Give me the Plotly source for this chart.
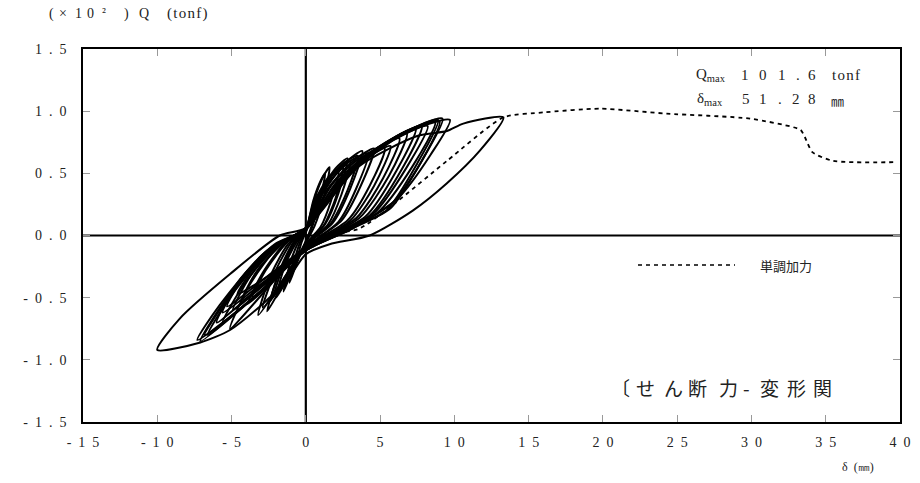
import plotly.graph_objects as go

# ---------------- data ----------------
# cyclic loading loops: displacement delta (mm), shear Q (x10^2 tonf)
c1_d = [0, 0.4, 0.8, 0.5, 0.1, -0.3, -0.6, -0.3, 0]
c1_q = [0.02, 0.2, 0.33, 0.12, -0.02, -0.12, -0.2, -0.06, 0.03]
c2_d = [0, 0.6, 1.2, 1.6, 1.2, 0.6, 0, -0.8, -1.5, -1.0, -0.4, 0]
c2_q = [0.03, 0.3, 0.48, 0.55, 0.3, 0.08, -0.06, -0.25, -0.45, -0.2, -0.03, 0.04]
c2b_d = [0, 0.5, 1.0, 1.3, 0.9, 0.4, 0, -0.6, -1.1, -0.7, -0.3, 0]
c2b_q = [0.03, 0.28, 0.44, 0.5, 0.26, 0.06, -0.05, -0.22, -0.38, -0.17, -0.03, 0.03]
c3_d = [0, 0.8, 1.8, 2.5, 2.0, 1.2, 0, -1.2, -2.6, -1.8, -0.8, 0]
c3_q = [0.04, 0.3, 0.5, 0.56, 0.3, 0.08, -0.08, -0.32, -0.61, -0.3, -0.06, 0.05]
c3b_d = [0, 0.7, 1.6, 2.2, 1.7, 1.0, 0, -1.0, -2.0, -1.4, -0.6, 0]
c3b_q = [0.04, 0.3, 0.48, 0.52, 0.28, 0.07, -0.07, -0.3, -0.5, -0.24, -0.05, 0.04]
c4_d = [0, 1.0, 2.2, 3.0, 2.4, 1.5, 0, -1.4, -2.4, -1.7, -0.8, 0]
c4_q = [0.04, 0.32, 0.52, 0.6, 0.33, 0.09, -0.08, -0.33, -0.53, -0.26, -0.05, 0.04]
c4b_d = [0, 0.9, 2.0, 2.8, 2.2, 1.3, 0, -1.2, -2.2, -1.5, -0.7, 0]
c4b_q = [0.04, 0.33, 0.54, 0.62, 0.34, 0.09, -0.08, -0.3, -0.5, -0.24, -0.05, 0.04]
c5_d = [0, 1.2, 2.6, 3.8, 3.0, 1.8, 0, -1.5, -3.2, -2.4, -1.2, 0]
c5_q = [0.05, 0.35, 0.58, 0.68, 0.38, 0.1, -0.08, -0.35, -0.64, -0.33, -0.07, 0.05]
c5b_d = [0, 1.1, 2.4, 3.5, 2.8, 1.7, 0, -1.4, -2.9, -2.1, -1.0, 0]
c5b_q = [0.05, 0.36, 0.57, 0.64, 0.36, 0.1, -0.08, -0.34, -0.58, -0.3, -0.06, 0.05]
c6_d = [0, 1.5, 3.2, 4.6, 3.7, 2.4, 0, -1.8, -3.6, -2.7, -1.3, 0]
c6_q = [0.05, 0.38, 0.6, 0.7, 0.4, 0.12, -0.09, -0.32, -0.5, -0.28, -0.06, 0.05]
c6b_d = [0, 1.4, 3.0, 4.2, 3.4, 2.2, 0, -1.9, -3.9, -2.9, -1.4, 0]
c6b_q = [0.05, 0.4, 0.6, 0.66, 0.38, 0.11, -0.09, -0.33, -0.55, -0.3, -0.06, 0.05]
c7_d = [0, 1.8, 3.8, 5.7, 4.6, 3.0, 0, -2.2, -4.6, -3.4, -1.6, 0]
c7_q = [0.05, 0.38, 0.6, 0.72, 0.4, 0.12, -0.1, -0.3, -0.47, -0.25, -0.06, 0.05]
c7b_d = [0, 1.7, 3.6, 5.3, 4.3, 2.8, 0, -2.0, -4.3, -3.2, -1.5, 0]
c7b_q = [0.05, 0.4, 0.62, 0.7, 0.4, 0.12, -0.09, -0.32, -0.52, -0.27, -0.06, 0.05]
c8_d = [0, 2.2, 4.5, 6.8, 5.6, 3.6, 0, -2.5, -5.3, -4.0, -1.8, 0]
c8_q = [0.05, 0.42, 0.68, 0.82, 0.48, 0.14, -0.1, -0.32, -0.57, -0.3, -0.06, 0.05]
c8b_d = [0, 2.0, 4.2, 6.3, 5.2, 3.4, 0, -2.3, -4.9, -3.7, -1.7, 0]
c8b_q = [0.05, 0.42, 0.66, 0.78, 0.46, 0.14, -0.1, -0.34, -0.6, -0.32, -0.06, 0.05]
c9_d = [0, 2.4, 5.0, 7.4, 6.1, 4.0, 0, -2.7, -5.6, -4.3, -2.0, 0]
c9_q = [0.05, 0.45, 0.72, 0.86, 0.52, 0.15, -0.1, -0.36, -0.62, -0.34, -0.07, 0.05]
c9b_d = [0, 2.5, 5.3, 7.8, 6.5, 4.3, 0, -2.8, -6.0, -4.6, -2.1, 0]
c9b_q = [0.05, 0.46, 0.74, 0.88, 0.54, 0.16, -0.1, -0.38, -0.7, -0.38, -0.07, 0.05]
c10_d = [0, 2.8, 5.8, 8.7, 7.2, 4.8, 0, -2.4, -5.1, -3.8, -1.8, 0]
c10_q = [0.05, 0.48, 0.76, 0.91, 0.56, 0.18, -0.1, -0.4, -0.75, -0.4, -0.08, 0.05]
c10b_d = [0, 2.6, 5.4, 8.2, 6.8, 4.5, 0, -2.6, -5.6, -4.2, -2.0, 0]
c10b_q = [0.05, 0.47, 0.74, 0.88, 0.55, 0.17, -0.1, -0.4, -0.7, -0.4, -0.08, 0.05]
c11_d = [0, 3.0, 6.2, 9.2, 7.8, 5.7, 2.8, 0, -3.0, -7.1, -5.3, -2.6, 0]
c11_q = [0.06, 0.5, 0.8, 0.94, 0.6, 0.22, 0.04, -0.12, -0.45, -0.85, -0.5, -0.12, 0.06]
c11b_d = [0, 2.9, 6.0, 8.9, 7.5, 5.4, 2.6, 0, -2.9, -6.8, -5.1, -2.5, 0]
c11b_q = [0.06, 0.5, 0.79, 0.93, 0.58, 0.2, 0.04, -0.12, -0.44, -0.8, -0.48, -0.12, 0.06]
c12_d = [0, 3.2, 6.6, 9.7, 8.4, 6.2, 3.2, 0, -3.2, -7.3, -5.8, -2.8, 0]
c12_q = [0.06, 0.52, 0.82, 0.93, 0.65, 0.3, 0.06, -0.12, -0.47, -0.84, -0.56, -0.14, 0.06]
c12b_d = [0, 3.0, 6.4, 9.0, 7.9, 5.9, 3.0, 0, -3.0, -6.6, -5.0, -2.4, 0]
c12b_q = [0.06, 0.52, 0.82, 0.92, 0.62, 0.27, 0.05, -0.12, -0.44, -0.8, -0.48, -0.12, 0.06]
c13_d = [0, 3.5, 7.5, 9.5, 10.6, 13.3, 11.7, 9.5, 7.2, 4.3, 1.6, 0, -1.2, -2.9,
         -5.1, -7.1, -10.0, -8.5, -5.1, -1.75, 0]
c13_q = [0.06, 0.55, 0.8, 0.84, 0.9, 0.95, 0.68, 0.42, 0.2, 0.0, -0.07, -0.15, -0.35, -0.55,
         -0.76, -0.86, -0.92, -0.67, -0.31, 0.0, 0.06]

# monotonic loading curve (dashed)
mono_d = [0, 3.5, 5.9, 9.5, 13.3, 16.0, 19.8, 24.3, 29.9, 33.3, 33.6, 34.1, 35.5, 39.8]
mono_q = [0, 0.05, 0.25, 0.6, 0.95, 0.99, 1.02, 0.98, 0.94, 0.85, 0.79, 0.67, 0.60, 0.59]

x_tickvals = [-15, -10, -5, 0, 5, 10, 15, 20, 25, 30, 35, 40]
x_ticktext = ["-\u20021\u20025", "-\u20021\u20020", "-\u20025", "0", "5", "1\u20020", "1\u20025",
              "2\u20020", "2\u20025", "3\u20020", "3\u20025", "4\u20020"]
y_tickvals = [1.5, 1.0, 0.5, 0.0, -0.5, -1.0, -1.5]
y_ticktext = ["1\u2002.\u20025", "1\u2002.\u20020", "0\u2002.\u20025", "0\u2002.\u20020",
              "-\u20020\u2002.\u20025", "-\u20021\u2002.\u20020", "-\u20021\u2002.\u20025"]

cycles = [(c1_d, c1_q), (c2_d, c2_q), (c2b_d, c2b_q), (c3_d, c3_q), (c3b_d, c3b_q),
          (c4_d, c4_q), (c4b_d, c4b_q), (c5_d, c5_q), (c5b_d, c5b_q), (c6_d, c6_q),
          (c6b_d, c6b_q), (c7_d, c7_q), (c7b_d, c7b_q), (c8_d, c8_q), (c8b_d, c8b_q),
          (c9_d, c9_q), (c9b_d, c9b_q), (c10_d, c10_q), (c10b_d, c10b_q), (c11_d, c11_q),
          (c11b_d, c11b_q), (c12_d, c12_q), (c12b_d, c12b_q), (c13_d, c13_q)]

fig = go.Figure()

for d, q in cycles:
    fig.add_trace(go.Scatter(x=d, y=q, mode="lines",
                             line=dict(color="black", width=2.0, shape="spline", smoothing=0.7),
                             showlegend=False, hoverinfo="skip"))

fig.add_trace(go.Scatter(x=mono_d, y=mono_q, mode="lines",
                         line=dict(color="black", width=1.8, dash="4px,4px",
                                   shape="spline", smoothing=0.6),
                         showlegend=False, hoverinfo="skip"))

SERIF = "Liberation Serif"
CJK = "Noto Sans CJK JP"

axis_common = dict(ticks="inside", ticklen=7, tickcolor="#999", tickwidth=1,
                   showline=True, linecolor="black", linewidth=1.6, mirror="ticks",
                   showgrid=False, zeroline=False, automargin=False,
                   tickfont=dict(family=SERIF, size=14, color="#222"))

fig.update_layout(
    width=920, height=483,
    margin=dict(l=83, r=20, t=49, b=61, autoexpand=False),
    paper_bgcolor="white", plot_bgcolor="white",
    font=dict(family=SERIF, color="#222", size=14),
    xaxis=dict(range=[-15, 40], tickvals=x_tickvals, ticktext=x_ticktext,
               ticklabelstandoff=6, **axis_common),
    yaxis=dict(range=[-1.5, 1.5], tickvals=y_tickvals, ticktext=y_ticktext,
               ticklabelstandoff=12, **axis_common),
)

# zero axes
fig.add_shape(type="line", xref="x", yref="paper", x0=0, x1=0, y0=0, y1=1,
              line=dict(color="black", width=2.2), layer="below")
fig.add_shape(type="line", xref="paper", yref="y", x0=0, x1=1, y0=0, y1=0,
              line=dict(color="black", width=2.2), layer="below")

HS = "\u200a"  # hair space for letter spacing
# annotation glyph positions in reference screen pixels (plot area: x 83-900, y 49-422)
PX0, PY0, PW, PH = 83, 49, 817, 373
ann = [
    # axis title  (x10^2) Q (tonf)
    ("(", 51, 14, 14, SERIF), ("×", 63, 14, 14, SERIF), ("1", 78, 14, 14, SERIF),
    ("0", 90, 14, 14, SERIF), ("²", 104, 12, 13, SERIF), (")", 126, 14, 14, SERIF),
    ("Q", 144, 14, 14, SERIF), (HS.join("(tonf)"), 187, 14, 15, SERIF),
    # Qmax 101.6 tonf
    ("Q<sub>max</sub>", 711, 75, 15, SERIF),
    ("1", 745, 75, 15, SERIF), ("0", 763, 75, 15, SERIF), ("1", 782, 75, 15, SERIF),
    (".", 798, 75, 15, SERIF), ("6", 812, 75, 15, SERIF), (HS.join("tonf"), 846, 75, 15, SERIF),
    # delta max 51.28 mm
    ("δ<sub>max</sub>", 710, 99, 15, SERIF),
    ("5", 746, 99, 15, SERIF), ("1", 763, 99, 15, SERIF), (".", 780, 99, 15, SERIF),
    ("2", 796, 99, 15, SERIF), ("8", 812, 99, 15, SERIF), ("㎜", 837, 100, 13, CJK),
    # legend text
    ("単調加力", 786, 265, 13, CJK),
    # caption
    ("〔", 620, 387, 19, CJK), ("せ", 645, 387, 19, CJK), ("ん", 673, 387, 19, CJK),
    ("断", 697, 387, 19, CJK), ("力", 728, 387, 19, CJK), ("-", 746, 387, 19, CJK),
    ("変", 769, 387, 19, CJK), ("形", 796, 387, 19, CJK), ("関", 822, 387, 19, CJK),
    # x axis title
    ("δ\u2002(㎜)", 858, 467, 12, SERIF),
]
for text, x, y, size, fam in ann:
    fig.add_annotation(xref="paper", yref="paper",
                       x=(x - PX0) / PW, y=1 - (y - PY0) / PH,
                       xanchor="center", yanchor="middle", showarrow=False,
                       text=text, font=dict(color="#222", size=size, family=fam))

# legend sample line for the dashed curve
fig.add_shape(type="line", xref="paper", yref="paper",
              x0=(638 - PX0) / PW, x1=(735 - PX0) / PW,
              y0=1 - (265 - PY0) / PH, y1=1 - (265 - PY0) / PH,
              line=dict(color="black", width=1.6, dash="4px,4px"))

fig.write_html("out.html", config={"displayModeBar": False},
               post_script="document.body.style.margin='0';")
